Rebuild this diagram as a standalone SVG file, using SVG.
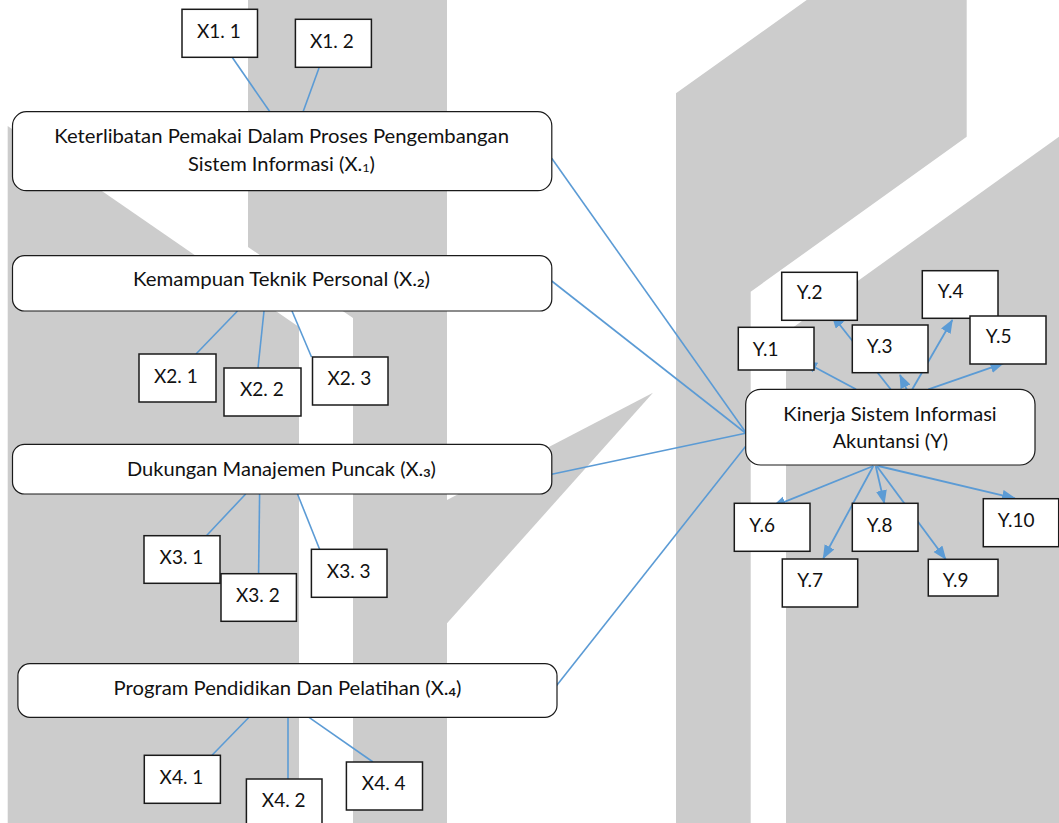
<svg xmlns="http://www.w3.org/2000/svg" width="1059" height="823" viewBox="0 0 1059 823">
<style>
.bg{fill:#cccccc;stroke:none}
.rbox{fill:#ffffff;stroke:#1a1a1a;stroke-width:1.2}
.sbox{fill:#ffffff;stroke:#1a1a1a;stroke-width:1.5}
.t{font-family:Lato,"Liberation Sans",sans-serif;font-size:19px;fill:#111111}
.sub{font-size:12px}
.c{stroke:#5b9bd5;stroke-width:1.6;fill:none}
.a{stroke:#5b9bd5;stroke-width:1.8;fill:none;marker-end:url(#ah)}
</style>
<defs>
<marker id="ah" markerUnits="userSpaceOnUse" markerWidth="14" markerHeight="12" refX="13" refY="5.5" orient="auto" viewBox="0 0 14 12">
<path d="M0,0 L14,5.5 L0,11 z" fill="#5b9bd5"/>
</marker>
</defs>
<g id="background">
<polygon class="bg" points="7.7,126 299,327 299,823 7.7,823"/>
<polygon class="bg" points="248,0 447,0 447,823 353,823 353,318 248,247"/>
<polygon class="bg" points="447,500 653,392.7 447,623.3"/>
<polygon class="bg" points="676,93.3 806.7,0 966.7,0 966.7,136.7 750.7,291.7 750.7,823 676,823"/>
<polygon class="bg" points="786,332.4 1059,136.7 1059,823 786,823"/>
</g>
<g id="connectors">
<line class="c" x1="232" y1="57" x2="270" y2="112"/>
<line class="c" x1="303" y1="112" x2="319" y2="68"/>
<line class="c" x1="237.5" y1="311" x2="196" y2="354"/>
<line class="c" x1="264" y1="311" x2="258" y2="368"/>
<line class="c" x1="292" y1="311" x2="311.5" y2="357"/>
<line class="c" x1="245.7" y1="494" x2="206.4" y2="535.7"/>
<line class="c" x1="259.6" y1="494" x2="258.6" y2="573.7"/>
<line class="c" x1="297.5" y1="494" x2="319.6" y2="549.3"/>
<line class="c" x1="249" y1="717.3" x2="212" y2="755.3"/>
<line class="c" x1="288" y1="717.3" x2="288" y2="779"/>
<line class="c" x1="309" y1="717.3" x2="373" y2="762"/>
<line class="c" x1="551.7" y1="158.3" x2="745.5" y2="432"/>
<line class="c" x1="551.7" y1="281" x2="745.5" y2="433"/>
<line class="c" x1="551.7" y1="474.3" x2="745.5" y2="433.3"/>
<line class="c" x1="551.7" y1="691.7" x2="745.5" y2="446.5"/>
<line class="a" x1="856" y1="389.3" x2="804" y2="361.5"/>
<line class="a" x1="890.7" y1="389.3" x2="832" y2="315"/>
<line class="a" x1="906.7" y1="389.3" x2="900" y2="375"/>
<line class="a" x1="912.3" y1="389.3" x2="952.3" y2="320"/>
<line class="a" x1="928.3" y1="389.3" x2="1003.3" y2="363.3"/>
<line class="a" x1="873.3" y1="466" x2="772.7" y2="506.7"/>
<line class="a" x1="873.3" y1="466" x2="823.3" y2="558.3"/>
<line class="a" x1="875.7" y1="466" x2="884.3" y2="503.3"/>
<line class="a" x1="876.7" y1="466" x2="945.7" y2="559.3"/>
<line class="a" x1="878.3" y1="466" x2="1015" y2="498.3"/>
</g>
<g id="X1">
<rect class="rbox" x="12.5" y="111.7" width="539.3" height="79" rx="14"/>
<text class="t" x="54.3" y="143" textLength="454.7" lengthAdjust="spacingAndGlyphs">Keterlibatan Pemakai Dalam Proses Pengembangan</text>
<text class="t" x="188" y="170.7" textLength="187" lengthAdjust="spacingAndGlyphs">Sistem Informasi (X.<tspan class="sub" dy="1">1</tspan><tspan dy="-1">)</tspan></text>
</g>
<g id="X1_1"><rect class="sbox" x="182" y="9.3" width="75.5" height="48"/><text class="t" x="197" y="38.3">X1. 1</text></g>
<g id="X1_2"><rect class="sbox" x="295.4" y="19.3" width="76" height="48"/><text class="t" x="310" y="48.3">X1. 2</text></g>
<g id="X2">
<rect class="rbox" x="12.5" y="255.7" width="539.3" height="55.3" rx="12"/>
<text class="t" x="133" y="286" textLength="297" lengthAdjust="spacingAndGlyphs">Kemampuan Teknik Personal (X.<tspan class="sub" font-weight="bold" dy="1">2</tspan><tspan dy="-1">)</tspan></text>
</g>
<g id="X2_1"><rect class="sbox" x="139" y="354" width="77" height="48"/><text class="t" x="154" y="382.7">X2. 1</text></g>
<g id="X2_2"><rect class="sbox" x="224" y="368" width="77" height="48"/><text class="t" x="240" y="396">X2. 2</text></g>
<g id="X2_3"><rect class="sbox" x="312.5" y="357" width="75.5" height="48"/><text class="t" x="327.5" y="385.3">X2. 3</text></g>
<g id="X3">
<rect class="rbox" x="12.5" y="444.3" width="539.3" height="49.7" rx="12"/>
<text class="t" x="127" y="476" textLength="309" lengthAdjust="spacingAndGlyphs">Dukungan Manajemen Puncak (X.<tspan class="sub" font-weight="bold" dy="1">3</tspan><tspan dy="-1">)</tspan></text>
</g>
<g id="X3_1"><rect class="sbox" x="144" y="535.7" width="76" height="47.6"/><text class="t" x="159.6" y="564">X3. 1</text></g>
<g id="X3_2"><rect class="sbox" x="221" y="573.7" width="75.4" height="47.6"/><text class="t" x="236" y="602">X3. 2</text></g>
<g id="X3_3"><rect class="sbox" x="311.4" y="549.3" width="75.6" height="48"/><text class="t" x="326.8" y="577.7">X3. 3</text></g>
<g id="X4">
<rect class="rbox" x="17.9" y="663.7" width="539.1" height="53.6" rx="12"/>
<text class="t" x="113.6" y="695" textLength="347.8" lengthAdjust="spacingAndGlyphs">Program Pendidikan Dan Pelatihan (X.<tspan class="sub" font-weight="bold" dy="1">4</tspan><tspan dy="-1">)</tspan></text>
</g>
<g id="X4_1"><rect class="sbox" x="144.3" y="755.3" width="76.1" height="48"/><text class="t" x="159.6" y="783.7">X4. 1</text></g>
<g id="X4_2"><rect class="sbox" x="246.4" y="779" width="75.6" height="48"/><text class="t" x="261.8" y="806.7">X4. 2</text></g>
<g id="X4_4"><rect class="sbox" x="346.4" y="762" width="76.1" height="48"/><text class="t" x="361.8" y="790">X4. 4</text></g>
<g id="Y">
<rect class="rbox" x="745.7" y="389.3" width="289.3" height="75.7" rx="15"/>
<text class="t" x="783.3" y="421" textLength="213.4" lengthAdjust="spacingAndGlyphs">Kinerja Sistem Informasi</text>
<text class="t" x="832.7" y="448.3" textLength="115.3" lengthAdjust="spacingAndGlyphs">Akuntansi (Y)</text>
</g>
<g id="Y1"><rect class="sbox" x="738.3" y="327.3" width="75.7" height="42.7"/><text class="t" x="752.7" y="355.7">Y.1</text></g>
<g id="Y2"><rect class="sbox" x="781.7" y="272.3" width="75.6" height="48"/><text class="t" x="796.7" y="299.3">Y.2</text></g>
<g id="Y3"><rect class="sbox" x="852.3" y="325" width="75.7" height="47.7"/><text class="t" x="866.7" y="352.7">Y.3</text></g>
<g id="Y4"><rect class="sbox" x="922.3" y="270.7" width="75.7" height="47.6"/><text class="t" x="937.7" y="298.3">Y.4</text></g>
<g id="Y5"><rect class="sbox" x="970" y="316" width="76" height="48"/><text class="t" x="985.7" y="343.3">Y.5</text></g>
<g id="Y6"><rect class="sbox" x="734.3" y="503.3" width="75.7" height="48"/><text class="t" x="749.3" y="531.7">Y.6</text></g>
<g id="Y7"><rect class="sbox" x="782.3" y="559" width="75.4" height="48"/><text class="t" x="797.3" y="587.3">Y.7</text></g>
<g id="Y8"><rect class="sbox" x="852.3" y="503.3" width="65.7" height="48"/><text class="t" x="866.7" y="531.7">Y.8</text></g>
<g id="Y9"><rect class="sbox" x="928.3" y="559.3" width="69.7" height="36.7"/><text class="t" x="942.7" y="587.3">Y.9</text></g>
<g id="Y10"><rect class="sbox" x="983.3" y="498.7" width="75.4" height="48"/><text class="t" x="997.7" y="526.7">Y.10</text></g>
</svg>
